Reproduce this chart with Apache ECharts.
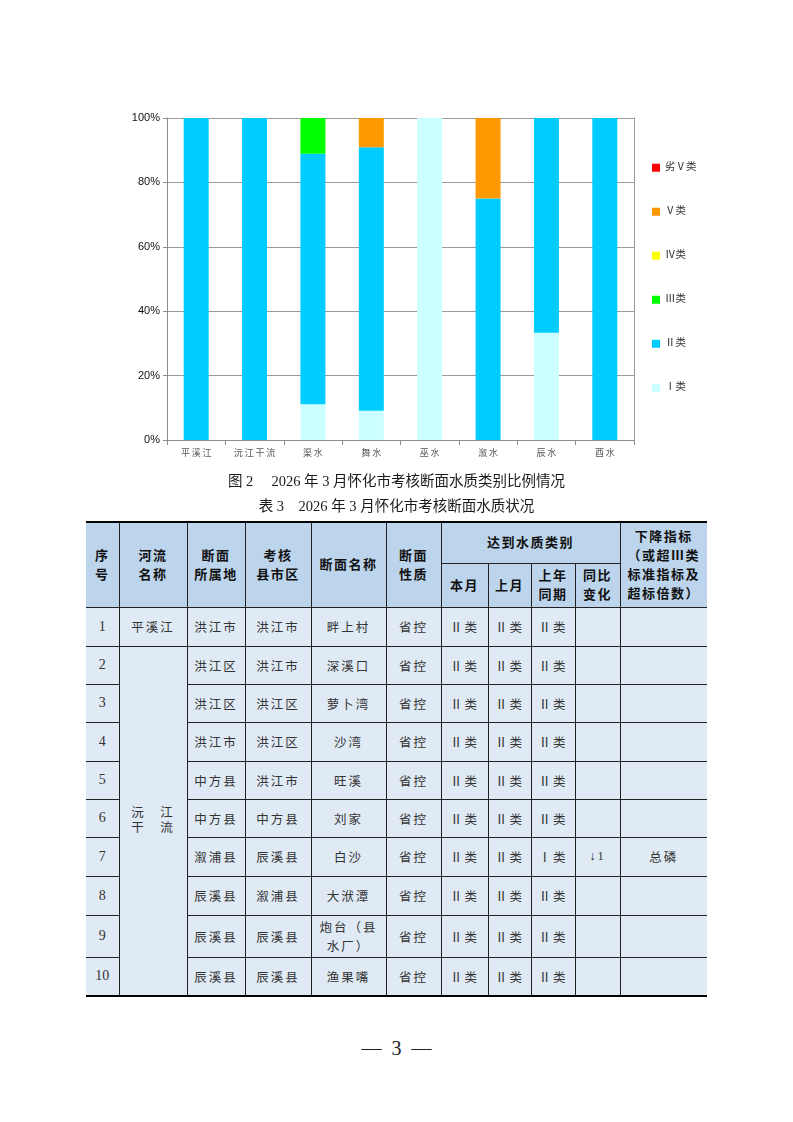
<!DOCTYPE html>
<html>
<head>
<meta charset="utf-8">
<script src="https://cdn.jsdelivr.net/npm/echarts@6/dist/echarts.min.js"></script>
<style>
  body { margin: 0; background: #fff; }
  #page { position: relative; width: 793px; height: 1122px; overflow: hidden;
    font-family: "Liberation Serif", "Noto Sans CJK SC", serif; color: #222; }
  #chart { position: absolute; left: 0; top: 0; width: 793px; height: 470px; }
  .cap { position: absolute; left: 0; width: 793px; text-align: center; font-size: 14.5px; color: #1a1a1a; }
  #tbl { position: absolute; left: 86px; top: 521px; border-collapse: collapse; table-layout: fixed;
    border-top: 2.5px solid #000; border-bottom: 2.5px solid #000; }
  #tbl td { border: 1px solid #222; text-align: center; vertical-align: middle; padding: 0 3px;
    font-size: 12.5px; letter-spacing: 2px; color: #333; background: #dfeaf5; }
  #tbl td.num { font-size: 14px; letter-spacing: 0; }
  #tbl tr td:first-child { border-left: none; }
  #tbl tr td:last-child { border-right: none; }
  #tbl td.h { background: #bcd5ec; font-weight: bold; color: #111; white-space: pre-line; line-height: 19px; font-size: 13px; letter-spacing: 1.5px; }
  #tbl td.river { white-space: pre; line-height: 15px; vertical-align: middle; }
  .pn { position: absolute; top: 1037px; left: 0; width: 793px; text-align: center; font-size: 20px; white-space: pre; }
</style>
</head>
<body>
<div id="page">
  <div id="chart"></div>
  <div class="cap" style="top:469px">图 2　 2026 年 3 月怀化市考核断面水质类别比例情况</div>
  <div class="cap" style="top:494px">表 3　2026 年 3 月怀化市考核断面水质状况</div>
  <table id="tbl"></table>
  <div class="pn">—  3  —</div>
</div>
<script>
// chart data
const rivers = ['平溪江', '沅江干流', '渠水', '舞水', '巫水', '溆水', '辰水', '酉水'];
const classNames = ['Ⅰ类', 'Ⅱ类', 'Ⅲ类', 'Ⅳ类', 'Ⅴ类', '劣Ⅴ类'];
const classColors = ['#ccffff', '#00ccff', '#00ff00', '#ffff00', '#ff9900', '#ff0000'];
const class1 = [0, 0, 11.1, 9.1, 100, 0, 33.3, 0];
const class2 = [100, 100, 77.8, 81.8, 0, 75, 66.7, 100];
const class3 = [0, 0, 11.1, 0, 0, 0, 0, 0];
const class4 = [0, 0, 0, 0, 0, 0, 0, 0];
const class5 = [0, 0, 0, 9.1, 0, 25, 0, 0];
const class6 = [0, 0, 0, 0, 0, 0, 0, 0];
const yTicks = [0, 20, 40, 60, 80, 100];

// table data
const seqNo = ['1', '2', '3', '4', '5', '6', '7', '8', '9', '10'];
const riverName = ['平溪江', '沅　江\n干　流'];
const belongTo = ['洪江市', '洪江区', '洪江区', '洪江市', '中方县', '中方县', '溆浦县', '辰溪县', '辰溪县', '辰溪县'];
const county = ['洪江市', '洪江市', '洪江区', '洪江区', '洪江市', '中方县', '辰溪县', '溆浦县', '辰溪县', '辰溪县'];
const sectionName = ['畔上村', '深溪口', '萝卜湾', '沙湾', '旺溪', '刘家', '白沙', '大洑潭', '炮台（县水厂）', '渔果嘴'];
const nature = ['省控', '省控', '省控', '省控', '省控', '省控', '省控', '省控', '省控', '省控'];
const thisMonth = ['Ⅱ类', 'Ⅱ类', 'Ⅱ类', 'Ⅱ类', 'Ⅱ类', 'Ⅱ类', 'Ⅱ类', 'Ⅱ类', 'Ⅱ类', 'Ⅱ类'];
const lastMonth = ['Ⅱ类', 'Ⅱ类', 'Ⅱ类', 'Ⅱ类', 'Ⅱ类', 'Ⅱ类', 'Ⅱ类', 'Ⅱ类', 'Ⅱ类', 'Ⅱ类'];
const lastYear = ['Ⅱ类', 'Ⅱ类', 'Ⅱ类', 'Ⅱ类', 'Ⅱ类', 'Ⅱ类', 'Ⅰ类', 'Ⅱ类', 'Ⅱ类', 'Ⅱ类'];
const yoyChange = ['', '', '', '', '', '', '↓1', '', '', ''];
const indicator = ['', '', '', '', '', '', '总磷', '', '', ''];
const headTop = ['序\n号', '河流\n名称', '断面\n所属地', '考核\n县市区', '断面名称', '断面\n性质', '达到水质类别', '下降指标\n（或超Ⅲ类\n标准指标及\n超标倍数）'];
const headSub = ['本月', '上月', '上年\n同期', '同比\n变化'];

const colWidths = [33, 68, 58, 66, 75, 55, 47, 43, 44, 45, 87];
const rowHeights = [39, 38, 38, 39, 38, 38, 39, 39, 42, 39];

function buildTable() {
  const t = document.getElementById('tbl');
  let html = '<colgroup>' + colWidths.map(w => `<col style="width:${w}px">`).join('') + '</colgroup>';
  html += '<tr style="height:41px">';
  headTop.forEach((h, i) => {
    if (i === 6) html += `<td class="h" colspan="4">${h}</td>`;
    else html += `<td class="h" rowspan="2">${h}</td>`;
  });
  html += '</tr><tr style="height:44px">';
  headSub.forEach(h => { html += `<td class="h">${h}</td>`; });
  html += '</tr>';
  seqNo.forEach((n, i) => {
    html += `<tr style="height:${rowHeights[i]}px"><td class="num">${n}</td>`;
    if (i === 0) html += `<td>${riverName[0]}</td>`;
    if (i === 1) html += `<td class="river" rowspan="9">${riverName[1]}</td>`;
    [belongTo, county, sectionName, nature, thisMonth, lastMonth, lastYear, yoyChange, indicator]
      .forEach(arr => { html += `<td>${arr[i]}</td>`; });
    html += '</tr>';
  });
  t.innerHTML = html;
}
buildTable();

const chart = echarts.init(document.getElementById('chart'));
const classData = [class1, class2, class3, class4, class5, class6];
const option = {
  animation: false,
  textStyle: { fontFamily: '"Liberation Serif", "Noto Sans CJK SC", serif' },
  grid: { left: 167, right: 159, top: 118, bottom: 30, containLabel: false, outerBoundsMode: 'none' },
  legend: {
    orient: 'vertical', left: 647, top: 157.5,
    itemWidth: 8, itemHeight: 8, itemGap: 33.5, icon: 'rect',
    data: classNames.slice().reverse(),
    textStyle: { fontSize: 10.5, lineHeight: 10, color: '#333' }
  },
  xAxis: {
    type: 'category', data: rivers,
    axisLine: { lineStyle: { color: '#8c8c8c' } },
    axisTick: { show: true, length: 5, lineStyle: { color: '#8c8c8c' } },
    axisLabel: {
      fontSize: 9, color: '#555', margin: 9,
      formatter: v => v.split('').join('\u2009')
    }
  },
  yAxis: [{
    type: 'value', min: 0, max: 100, interval: 20,
    axisLine: { show: true, lineStyle: { color: '#8c8c8c' } },
    axisTick: { show: true, length: 4, lineStyle: { color: '#8c8c8c' } },
    axisLabel: {
      fontSize: 11, color: '#111', margin: 7,
      fontFamily: '"Liberation Sans", Arial, sans-serif',
      formatter: v => (yTicks.includes(v) ? v + '%' : '')
    },
    splitLine: { lineStyle: { color: '#9a9a9a' } }
  }, {
    type: 'value', min: 0, max: 100, position: 'right',
    axisLine: { show: true, lineStyle: { color: '#9a9a9a' } },
    axisTick: { show: false }, axisLabel: { show: false }, splitLine: { show: false }
  }],
  series: classNames.map((name, i) => ({
    name, type: 'bar', stack: 'total', barWidth: 25,
    itemStyle: { color: classColors[i] },
    data: classData[i]
  }))
};
chart.setOption(option);
</script>
</body>
</html>
